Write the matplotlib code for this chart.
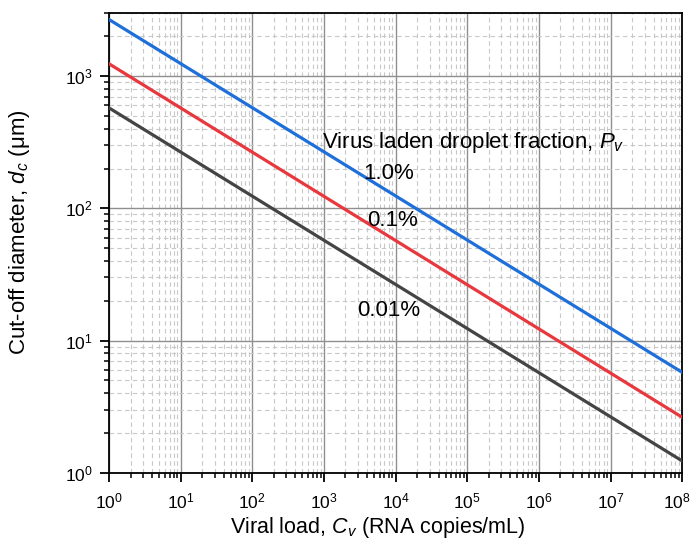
import matplotlib
matplotlib.use("Agg")
import matplotlib.pyplot as plt
import matplotlib.transforms as mtransforms
from matplotlib.ticker import LogLocator, NullFormatter

plt.rcParams["font.family"] = ["Liberation Sans", "DejaVu Sans"]
plt.rcParams["mathtext.fontset"] = "custom"
plt.rcParams["mathtext.rm"] = "Liberation Sans"
plt.rcParams["mathtext.it"] = "Liberation Sans:italic"

# viral load range (RNA copies/mL) and cut-off diameter at each end (um)
viral_load = [1e0, 1e8]
d_1pct = [2680, 5.75]
d_01pct = [1240, 2.63]
d_001pct = [575, 1.23]

series = [
    ("1.0%", d_1pct, "#1f6fdb"),
    ("0.1%", d_01pct, "#e8383d"),
    ("0.01%", d_001pct, "#444444"),
]
label_pos = {"1.0%": (8e3, 182), "0.1%": (9e3, 81), "0.01%": (8e3, 17)}

fig = plt.figure(figsize=(6.94, 5.41), dpi=100)
ax = fig.add_axes([0.157, 0.126, 0.826, 0.85])

for name, vals, color in series:
    ax.plot(viral_load, vals, color=color, lw=2.3, zorder=3)
    x, y = label_pos[name]
    ax.text(x, y, name, fontsize=16, ha="center", va="center", zorder=4)

ax.text(9.3e2, 316, "Virus laden droplet fraction, $P_v$", fontsize=16,
        ha="left", va="center", zorder=4)

ax.set_xscale("log")
ax.set_yscale("log")
ax.set_xlim(1, 1e8)
ax.set_ylim(1, 3000)

for axis in (ax.xaxis, ax.yaxis):
    axis.set_major_locator(LogLocator(base=10, numticks=20))
    axis.set_minor_locator(LogLocator(base=10, subs=range(2, 10), numticks=20))
    axis.set_minor_formatter(NullFormatter())

ax.grid(True, which="major", color="#8f8f8f", lw=1.0, ls="-", zorder=1)
ax.grid(True, which="minor", color="#c8c8c8", lw=0.8, ls=(0, (4, 3)), zorder=0)

ax.tick_params(which="major", direction="out", length=6.5, width=1.3, labelsize=12.5)
ax.tick_params(which="minor", direction="out", length=3.5, width=1.1)
ax.tick_params(axis="x", which="major", pad=7)
ax.tick_params(axis="y", which="major", pad=5)
for s in ax.spines.values():
    s.set_linewidth(1.3)

ax.set_xlabel("Viral load, $C_v$ (RNA copies/mL)", fontsize=15.5)
ax.set_ylabel("Cut-off diameter, $d_c$ ($\\mathrm{\\mu}$m)", fontsize=16)
ax.xaxis.set_label_coords(0.468, -0.092)
ax.yaxis.set_label_coords(-0.135, 0.524)

# keep the 10^8 label inside the canvas
fig.canvas.draw()
for lbl in ax.get_xticklabels():
    if lbl.get_position()[0] >= 1e8:
        shift = mtransforms.ScaledTranslation(-4 / 72, 0, fig.dpi_scale_trans)
        lbl.set_transform(lbl.get_transform() + shift)

fig.savefig("out.png", dpi=100)
